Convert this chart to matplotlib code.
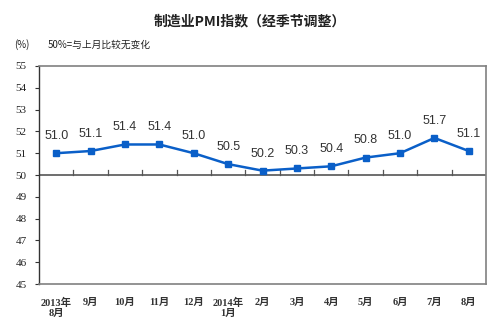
import matplotlib
matplotlib.use("Agg")
import matplotlib.pyplot as plt

plt.rcParams['font.family'] = ['Liberation Sans', 'Noto Sans CJK SC']

months = ["2013年\n8月", "9月", "10月", "11月", "12月", "2014年\n1月", "2月",
          "3月", "4月", "5月", "6月", "7月", "8月"]
pmi = [51.0, 51.1, 51.4, 51.4, 51.0, 50.5, 50.2, 50.3, 50.4, 50.8, 51.0, 51.7, 51.1]
yticks = list(range(45, 56))

fig = plt.figure(figsize=(5, 3.25), dpi=100)
ax = fig.add_axes([0.078, 0.126, 0.894, 0.671])

x = list(range(len(pmi)))
ax.plot(x, pmi, color="#0a5fc8", lw=1.8, marker="s", ms=4.5, zorder=3)
for xi, v in zip(x, pmi):
    ax.annotate(f"{v:.1f}", (xi, v), xytext=(0, 8), textcoords="offset points",
                ha="center", va="bottom", fontsize=9, color="#333333",
                family=['Liberation Sans', 'Noto Sans CJK SC'])

# baseline at 50 with ticks between categories
ax.axhline(50, color="#555555", lw=1.2, zorder=2)
for b in range(1, len(pmi)):
    ax.plot([b - 0.5, b - 0.5], [50, 50.22], color="#555555", lw=0.9, zorder=2)

ax.set_xlim(-0.5, len(pmi) - 0.5)
ax.set_ylim(45, 55)
ax.set_yticks(yticks)
ax.set_yticklabels([str(t) for t in yticks], family=['Liberation Serif', 'Noto Sans CJK SC'],
                   fontsize=8, color="#222222")
ax.set_xticks(x)
ax.set_xticklabels(months, family=['Liberation Serif', 'Noto Sans CJK SC'],
                   fontsize=7.5, fontweight="bold", color="#333333", linespacing=1.1)
ax.tick_params(axis="x", length=0, pad=10)
ax.tick_params(axis="y", direction="out", length=3, width=0.8, color="#333333", pad=6)

ax.spines["left"].set_color("#333333")
ax.spines["left"].set_linewidth(1.0)
for s in ("top", "right", "bottom"):
    ax.spines[s].set_color("#808080")
    ax.spines[s].set_linewidth(1.2)

fig.text(0.5, 0.935, "制造业PMI指数（经季节调整）", ha="center", va="center",
         fontsize=10, fontweight="bold", color="#222222",
         family=['Noto Sans CJK SC', 'DejaVu Sans'])
fig.text(0.028, 0.862, "(%)", ha="left", va="center", fontsize=7, color="#222222",
         family=['Noto Sans CJK SC', 'DejaVu Sans'])
fig.text(0.096, 0.862, "50%=与上月比较无变化", ha="left", va="center", fontsize=7,
         color="#222222", family=['Noto Sans CJK SC', 'DejaVu Sans'])

fig.savefig("out.png", dpi=100, facecolor="white")
